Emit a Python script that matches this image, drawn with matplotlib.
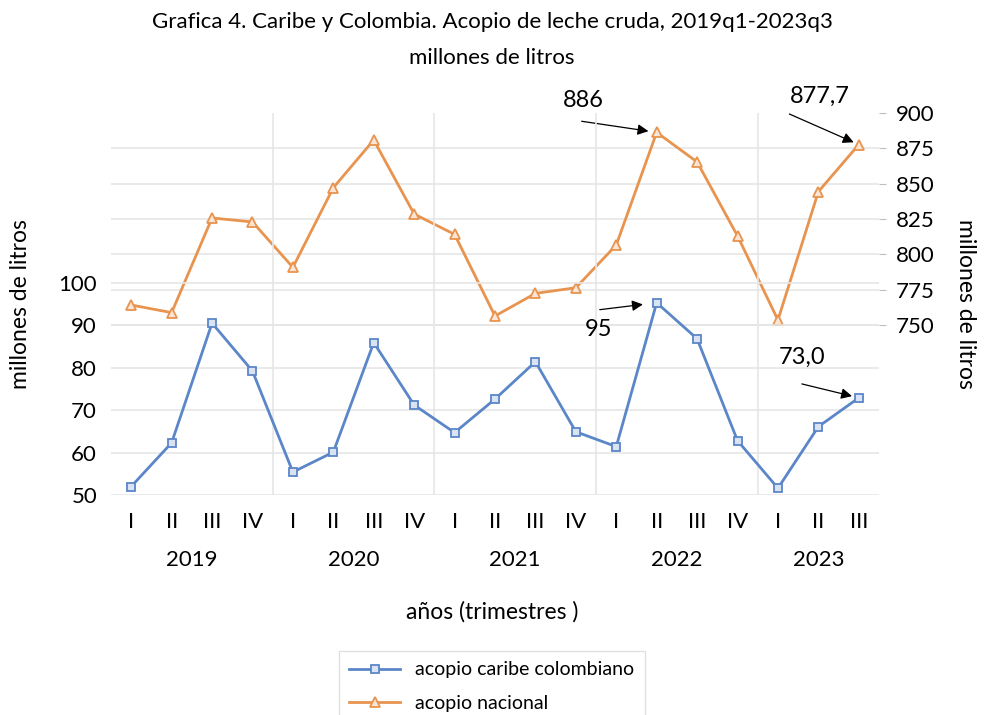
import matplotlib.pyplot as plt
import matplotlib.transforms as mtransforms

plt.rcParams['font.family'] = ['Lato', 'DejaVu Sans']

quarters = ["I", "II", "III", "IV"] * 4 + ["I", "II", "III"]
years = ["2019", "2020", "2021", "2022", "2023"]
caribe = [52.0, 62.3, 90.5, 79.2, 55.4, 60.1, 85.9, 71.2, 64.7, 72.6,
          81.4, 64.9, 61.4, 95.3, 86.8, 62.8, 51.6, 66.1, 72.9]
nacional = [764.3, 758.9, 825.8, 823.0, 790.9, 847.2, 880.9, 828.6, 814.2, 756.5,
            772.5, 776.5, 806.7, 886.3, 865.4, 813.1, 753.7, 844.4, 877.7]
left_ticks = [50, 60, 70, 80, 90, 100]
right_ticks = [750, 775, 800, 825, 850, 875, 900]

blue = "#5B86C8"
orange = "#E8944F"
grid_c = "#E6E6E6"

fig = plt.figure(figsize=(9.84, 7.15), dpi=100)
ax = fig.add_axes([111 / 984, 1 - 495 / 715, 768 / 984, 382 / 715])
ax2 = ax.twinx()

x = list(range(len(caribe)))
ax.set_xlim(-0.5, len(x) - 0.5)
ax.set_ylim(50, 140)
ax2.set_ylim(630, 900)

# gridlines
for v in left_ticks:
    ax.axhline(v, color=grid_c, lw=1.2, zorder=0)
for v in right_ticks[:-1]:
    ax2.axhline(v, color=grid_c, lw=1.2, zorder=0)
for b in [3.5, 7.5, 11.5, 15.5]:
    ax.axvline(b, color=grid_c, lw=1.2, zorder=0)

ax2.plot(x, nacional, color=orange, lw=2.0, marker="^", ms=6.5,
         mfc="#FBE5D6", mec=orange, mew=1.3, label="acopio nacional", zorder=3)
ax.plot(x, caribe, color=blue, lw=2.0, marker="s", ms=5.5,
        mfc="#DAE3F3", mec=blue, mew=1.3, label="acopio caribe colombiano", zorder=3)
ax.set_zorder(ax2.get_zorder() + 1)
ax.patch.set_visible(False)

for a in (ax, ax2):
    for s in a.spines.values():
        s.set_visible(False)

ax.set_yticks(left_ticks)
ax.set_yticklabels([str(v) for v in left_ticks], fontsize=16)
ax.tick_params(axis="y", length=0, pad=10)
ax2.set_yticks(right_ticks)
ax2.set_yticklabels([str(v) for v in right_ticks], fontsize=16)
ax2.tick_params(axis="y", length=5, color="#BFBFBF", pad=7)

ax.set_xticks(x)
ax.set_xticklabels(quarters, fontsize=16)
ax.tick_params(axis="x", length=0, pad=12)

trans = mtransforms.blended_transform_factory(ax.transData, ax.transAxes)
for i, yr in enumerate(years):
    n = 3 if yr == "2023" else 4
    ax.text(4 * i + (n - 1) / 2, -0.17, yr, transform=trans, ha="center",
            va="center", fontsize=16)

ax.set_ylabel("millones de litros", fontsize=16.5, labelpad=20)
ax2.set_ylabel("millones de litros", fontsize=16.5, rotation=270, labelpad=30)
fig.text(0.5, 1 - 612 / 715, "años (trimestres )", ha="center", va="center", fontsize=16.5)

fig.text(0.5, 1 - 22 / 715, "Grafica 4. Caribe y Colombia. Acopio de leche cruda, 2019q1-2023q3",
         ha="center", va="center", fontsize=16)
fig.text(0.5, 1 - 58 / 715, "millones de litros", ha="center", va="center", fontsize=16)

arrow = dict(arrowstyle="-|>", color="black", lw=0.9, mutation_scale=16)
i = nacional.index(max(nacional))
ax2.annotate("", xy=(i, nacional[i]), xytext=(-54, 8), textcoords="offset points",
             arrowprops=dict(arrow, shrinkA=0, shrinkB=6))
ax2.annotate("886", xy=(i, nacional[i]), xytext=(-53, 23), textcoords="offset points",
             ha="center", va="center", fontsize=17)
j = len(x) - 1
ax2.annotate("", xy=(j, nacional[j]), xytext=(-50, 22), textcoords="offset points",
             arrowprops=dict(arrow, shrinkA=0, shrinkB=4))
ax2.annotate("877,7", xy=(j, nacional[j]), xytext=(-28, 35), textcoords="offset points",
             ha="center", va="center", fontsize=17)
k = caribe.index(max(caribe))
ax.annotate("", xy=(k, caribe[k]), xytext=(-41, -5), textcoords="offset points",
            arrowprops=dict(arrow, shrinkA=0, shrinkB=10))
ax.annotate("95", xy=(k, caribe[k]), xytext=(-42, -19), textcoords="offset points",
            ha="center", va="center", fontsize=17)
ax.annotate("", xy=(j, caribe[j]), xytext=(-41, 10), textcoords="offset points",
            arrowprops=dict(arrow, shrinkA=0, shrinkB=5))
ax.annotate("73,0", xy=(j, caribe[j]), xytext=(-41, 29), textcoords="offset points",
            ha="center", va="center", fontsize=17)

h1, l1 = ax.get_legend_handles_labels()
h2, l2 = ax2.get_legend_handles_labels()
leg = fig.legend(h1 + h2, l1 + l2, loc="upper center", bbox_to_anchor=(0.5, 1 - 641 / 715),
                 fontsize=14, frameon=True, fancybox=False, edgecolor="#D9D9D9",
                 handlelength=2.6, borderpad=0.55, labelspacing=0.85)
leg.get_frame().set_linewidth(1.0)

fig.savefig("out.png", dpi=100)
